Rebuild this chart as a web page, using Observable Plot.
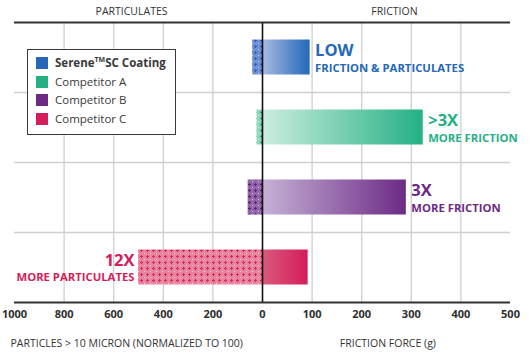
<!DOCTYPE html>
<html>
<head>
<meta charset="utf-8">
<script src="https://cdn.jsdelivr.net/npm/d3@7"></script>
<script src="https://cdn.jsdelivr.net/npm/@observablehq/plot@0.6"></script>
<style>
  html, body { margin: 0; padding: 0; background: #fff; }
  #wrap { position: relative; width: 529px; height: 354px; font-family: "Open Sans", sans-serif; }
  #wrap svg { position: absolute; left: 0; top: 0; }
  g[aria-label^="x-axis"] text { font-weight: 700; font-size: 11px; fill: #2e2e2e; }
  .legend { position: absolute; left: 27px; top: 49px; width: 149px; height: 86px; box-sizing: border-box;
            border: 1.5px solid #3a3a3a; background: #fff; color: #3a3a3a; font-size: 11.5px; }
  .legend .row { position: absolute; left: 8px; height: 14px; line-height: 14px; white-space: nowrap; }
  .legend .sw { display: inline-block; width: 12px; height: 12px; vertical-align: -2px; margin-right: 7px; }
  .legend sup { font-size: 7px; vertical-align: 5px; line-height: 0; }
</style>
</head>
<body>
<div id="wrap"></div>
<script>
// ---- data ----
const series = ["Serene™SC Coating", "Competitor A", "Competitor B", "Competitor C"];
const particulates = [40, 22, 58, 500];   // particles > 10 micron (normalized to 100)
const friction = [96, 324, 290, 92];       // friction force (g)
const colors = ["#2468b7", "#25b084", "#6c2a85", "#d41d59"];
const headlines = ["LOW", ">3X", "3X", "12X"];
const sublines = ["FRICTION & PARTICULATES", "MORE FRICTION", "MORE FRICTION", "MORE PARTICULATES"];
const particulateTicks = [1000, 800, 600, 400, 200];
const frictionTicks = [0, 100, 200, 300, 400, 500];
const headerLabels = ["PARTICULATES", "FRICTION"];
const axisTitles = ["PARTICLES > 10 MICRON (NORMALIZED TO 100)", "FRICTION FORCE (g)"];

// gradient / pattern tints
const fricLight = ["#a8bbe3", "#cdeedf", "#c6b2d6", "#d95a7e"];
const patBase = ["#6e90d0", "#8fd6bb", "#9267aa", "#e8849d"];
const patMark = ["#2c62bc", "#27a97e", "#5d2277", "#d52a5f"];
const patDot = ["#c9d6ef", "#d7f2e7", "#dccbe5", "#f7d0da"];

// the left half of the shared x axis shows particulates at half scale (1000 ↔ 500 g)
const PSCALE = 2;
const px = p => -p / PSCALE;
const xTicks = [...particulateTicks.map(px), ...frictionTicks];
const tickFmt = v => String(v < 0 ? Math.round(-v * PSCALE) : v);

const rows = series.map((name, i) => ({
  i, name, p: particulates[i], f: friction[i], color: colors[i],
  head: headlines[i], sub: sublines[i]
}));
const p0 = particulates[0], f0 = friction[0];
const leftSide = d => d.p / p0 > d.f / f0;
const rightRows = rows.filter(d => !leftSide(d));
const leftRows = rows.filter(leftSide);
const xMin = px(particulateTicks[0]), xMax = frictionTicks[frictionTicks.length - 1];

const headStyle = { textAnchor: "start", lineAnchor: "bottom", fontSize: 16.5, fontWeight: "bold" };
const subStyle = { textAnchor: "start", lineAnchor: "bottom", fontSize: 11.3, fontWeight: "bold" };

const chart = Plot.plot({
  width: 529,
  height: 354,
  marginLeft: 14,
  marginRight: 19,
  marginTop: 22,
  marginBottom: 52,
  style: { fontFamily: "Open Sans", fontSize: "11px", color: "#2e2e2e", background: "transparent" },
  x: {
    domain: [xMin, xMax],
    ticks: xTicks,
    tickFormat: tickFmt,
    tickSize: 0,
    tickPadding: 8,
    label: null
  },
  y: { domain: [0, 4], range: [22, 302], axis: null },
  marks: [
    // vertical grid
    Plot.ruleX(xTicks.filter(d => d !== 0 && d !== xMin && d !== xMax), { y1: 0, y2: 4, stroke: "#cfcfcf", strokeWidth: 1.3 }),
    // horizontal grid (band boundaries)
    Plot.ruleY(rows.slice(1), { y: d => d.i, x1: xMin, x2: xMax, stroke: "#cfcfcf", strokeWidth: 1.3 }),
    // particulate bars (patterned)
    ...rows.map(r => Plot.rect([r], { x1: d => px(d.p), x2: 0, y1: d => d.i + 0.25, y2: d => d.i + 0.75, fill: `url(#pat${r.i})` })),
    // friction bars (gradient)
    ...rows.map(r => Plot.rect([r], { x1: 0, x2: d => d.f, y1: d => d.i + 0.25, y2: d => d.i + 0.75, fill: `url(#grad${r.i})` })),
    // zero line
    Plot.ruleX([0], { y1: 0, y2: 4, stroke: "#111", strokeWidth: 1.6 }),
    // top and bottom rules
    Plot.ruleY([0, 4], { x1: xMin, x2: xMax, stroke: "#333", strokeWidth: 2.2 }),
    // callouts right
    ...rightRows.map(r => Plot.text([r], { ...headStyle, x: "f", y: d => d.i + 0.5, text: "head", dx: 5, dy: -2, fill: r.color })),
    ...rightRows.map(r => Plot.text([r], { ...subStyle, x: "f", y: d => d.i + 0.5, text: "sub", dx: 5, dy: 14, fill: r.color })),
    // callouts left
    ...leftRows.map(r => Plot.text([r], { ...headStyle, textAnchor: "end", x: d => px(d.p), y: d => d.i + 0.5, text: "head", dx: -4, dy: -1.5, fill: r.color })),
    ...leftRows.map(r => Plot.text([r], { ...subStyle, textAnchor: "end", x: d => px(d.p), y: d => d.i + 0.5, text: "sub", dx: -4, dy: 13.5, fill: r.color })),
    // header labels
    Plot.text([{ t: headerLabels[0], x: px(528) }, { t: headerLabels[1], x: 266 }], {
      x: "x", frameAnchor: "top", text: "t", textAnchor: "middle", lineAnchor: "bottom", dy: -8,
      fontSize: 10.5, fill: "#333" }),
    // axis titles
    Plot.text([{ t: axisTitles[0], x: xMin }, { t: axisTitles[1], x: 164 }], {
      x: "x", frameAnchor: "bottom", text: "t", textAnchor: "start", lineAnchor: "bottom", dx: -4, dy: 44,
      fontSize: 10.5, fill: "#333" })
  ]
});

const wrap = document.getElementById("wrap");
wrap.appendChild(chart);
const svg = chart.tagName.toLowerCase() === "svg" ? chart : chart.querySelector("svg");

// defs: gradients and dot patterns
const defs = d3.select(svg).insert("defs", ":first-child");
rows.forEach((d, i) => {
  const g = defs.append("linearGradient").attr("id", `grad${i}`).attr("x1", 0).attr("x2", 1).attr("y1", 0).attr("y2", 0);
  g.append("stop").attr("offset", "0%").attr("stop-color", fricLight[i]);
  g.append("stop").attr("offset", "100%").attr("stop-color", colors[i]);
  const p = defs.append("pattern").attr("id", `pat${i}`).attr("patternUnits", "userSpaceOnUse")
    .attr("width", 6).attr("height", 6).attr("x", 0).attr("y", 1);
  p.append("rect").attr("width", 6).attr("height", 6).attr("fill", patBase[i]);
  p.append("rect").attr("x", 2).attr("y", 3).attr("width", 3).attr("height", 1).attr("fill", patMark[i]);
  p.append("rect").attr("x", 3).attr("y", 2).attr("width", 1).attr("height", 3).attr("fill", patMark[i]);
  p.append("rect").attr("x", 0).attr("y", 0).attr("width", 1).attr("height", 1).attr("fill", patDot[i]);
});

// legend (overlaid inside plot area)
const legend = document.createElement("div");
legend.className = "legend";
series.forEach((name, i) => {
  const row = document.createElement("div");
  row.className = "row";
  row.style.top = (6 + 18.6 * i) + "px";
  const sw = document.createElement("span");
  sw.className = "sw";
  sw.style.background = colors[i];
  row.appendChild(sw);
  const label = document.createElement("span");
  if (name.includes("™")) {
    const [a, b] = name.split("™");
    label.innerHTML = `<b>${a}<sup>TM</sup>${b}</b>`;
  } else {
    label.textContent = name;
  }
  row.appendChild(label);
  legend.appendChild(row);
});
wrap.appendChild(legend);
</script>
</body>
</html>
